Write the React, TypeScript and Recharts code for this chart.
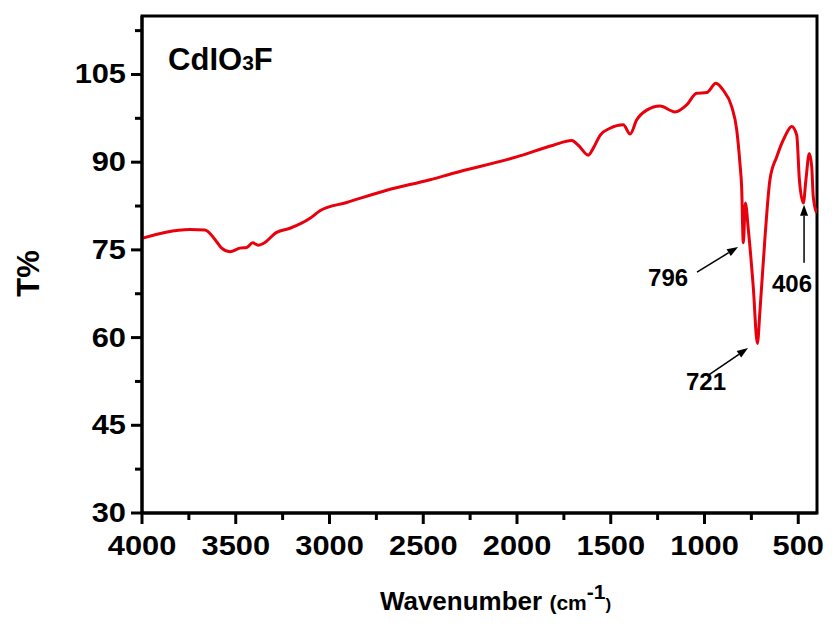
import {
  LineChart,
  Line,
  XAxis,
  YAxis,
  ReferenceArea,
  ReferenceLine,
  ReferenceDot
} from 'recharts'

// IR spectrum
const wavenumber = [
  4000, 3744, 3664, 3602, 3575, 3531, 3477, 3442, 3410, 3380, 3353, 3282, 3211, 3104, 3051,
  2908, 2695, 2464, 2340, 2002, 1806, 1708, 1673, 1620, 1593, 1557, 1504, 1433, 1397, 1362,
  1308, 1237, 1157, 1095, 1042, 988, 939, 900, 855, 828, 811, 802, 793, 782, 766, 740, 718,
  704, 677, 651, 615, 571, 535, 508, 494, 473, 459, 441, 428, 420, 402
]
const transmittance = [
  77.0, 78.5, 78.4, 76.4, 75.3, 74.7, 75.3, 75.4, 76.2, 75.8, 76.1, 78.0, 78.7, 80.4, 81.7,
  83.1, 85.2, 87.0, 88.1, 90.9, 92.9, 93.7, 92.9, 91.2, 92.4, 94.6, 95.8, 96.4, 94.8, 97.2,
  98.9, 99.6, 98.6, 99.8, 101.8, 101.9, 103.5, 102.3, 99.5, 95.5, 89.8, 85.8, 76.2, 83.0, 78.4, 68.7, 59.0,
  64.7, 77.3, 87.0, 90.9, 94.4, 96.1, 94.6, 87.0, 83.0, 87.0, 91.5, 89.2, 84.1, 81.3
]

const xTicks = [4000, 3750, 3500, 3250, 3000, 2750, 2500, 2250, 2000, 1750, 1500, 1250, 1000, 750, 500]
const yTicks = [30, 37.5, 45, 52.5, 60, 67.5, 75, 82.5, 90, 97.5, 105, 112.5]

// peak annotations (text position + arrow, in data units)
const peakLabels = ['796', '721', '406']
const labelWn = [1301, 1099, 640]
const labelT = [68.8, 51.0, 67.8]
const arrowFromWn = [1040, 987, 469]
const arrowFromT = [71.2, 53.4, 72.8]
const arrowToWn = [821, 768, 469]
const arrowToT = [75.5, 58.2, 82.7]

const data = wavenumber.map((w, i) => ({ wn: w, t: transmittance[i] }))

const FONT = '"Liberation Sans", Arial, sans-serif'

const XTick = (props: any) => {
  const { x, y, payload } = props
  const major = payload.value % 500 === 0
  return (
    <g>
      <line x1={x} y1={y} x2={x} y2={y + (major ? 11 : 7)} stroke="#000" strokeWidth={3} />
      {major && (
        <text
          transform={`translate(${x},${y + 42}) scale(1.1,1)`}
          textAnchor="middle"
          fontFamily={FONT}
          fontWeight="bold"
          fontSize={28}
          fill="#000"
        >
          {payload.value}
        </text>
      )}
    </g>
  )
}

const YTick = (props: any) => {
  const { x, y, payload } = props
  const major = payload.value % 15 === 0
  return (
    <g>
      <line x1={x} y1={y} x2={x - (major ? 11 : 7)} y2={y} stroke="#000" strokeWidth={3} />
      {major && (
        <text
          transform={`translate(${x - 16},${y + 9}) scale(1.1,1)`}
          textAnchor="end"
          fontFamily={FONT}
          fontWeight="bold"
          fontSize={28}
          fill="#000"
        >
          {payload.value}
        </text>
      )}
    </g>
  )
}

const Arrow = (props: any) => {
  const { x1, y1, x2, y2 } = props
  const dx = x2 - x1
  const dy = y2 - y1
  const len = Math.sqrt(dx * dx + dy * dy) || 1
  const ux = dx / len
  const uy = dy / len
  const hl = 11
  const hw = 4
  const bx = x2 - ux * hl
  const by = y2 - uy * hl
  return (
    <g>
      <line x1={x1} y1={y1} x2={bx} y2={by} stroke="#000" strokeWidth={1.5} />
      <polygon
        points={`${x2},${y2} ${bx - uy * hw},${by + ux * hw} ${bx + uy * hw},${by - ux * hw}`}
        fill="#000"
      />
    </g>
  )
}

export default function App() {
  return (
    <div style={{ position: 'absolute', left: 0, top: 0, background: '#fff' }}>
      <LineChart
        width={832}
        height={635}
        data={data}
        margin={{ top: 16, right: 15, left: 0, bottom: 0 }}
      >
        <XAxis
          dataKey="wn"
          type="number"
          domain={[400, 4000]}
          reversed
          allowDataOverflow
          ticks={xTicks}
          interval={0}
          height={122}
          tickSize={0}
          tickMargin={0}
          tickLine={false}
          axisLine={{ stroke: '#000', strokeWidth: 3 }}
          tick={<XTick />}
          label={{
            content: (p: any) => {
              const vb = p.viewBox || { x: 142, y: 513, width: 675 }
              return (
                <text
                  x={vb.x + vb.width / 2 + 16}
                  y={vb.y + 97}
                  textAnchor="middle"
                  fontFamily={FONT}
                  fontWeight="bold"
                  fill="#000"
                >
                  <tspan fontSize={26}>Wavenumber </tspan>
                  <tspan fontSize={21}>(cm</tspan>
                  <tspan fontSize={21} dy={-11}>-1</tspan>
                  <tspan fontSize={17} dy={11}>)</tspan>
                </text>
              )
            }
          }}
        />
        <YAxis
          type="number"
          domain={[30, 115]}
          allowDataOverflow
          ticks={yTicks}
          interval={0}
          width={142}
          tickSize={0}
          tickMargin={0}
          tickLine={false}
          axisLine={{ stroke: '#000', strokeWidth: 3 }}
          tick={<YTick />}
          label={{
            content: (p: any) => {
              const vb = p.viewBox || { x: 0, y: 16, height: 497 }
              const cy = vb.y + vb.height / 2 + 9
              return (
                <text
                  x={28}
                  y={cy}
                  transform={`rotate(-90, 28, ${cy})`}
                  textAnchor="middle"
                  dominantBaseline="central"
                  fontFamily={FONT}
                  fontWeight="bold"
                  fontSize={31}
                  fill="#000"
                >
                  T%
                </text>
              )
            }
          }}
        />

        {/* box frame */}
        <ReferenceArea
          x1={400}
          x2={4000}
          y1={30}
          y2={115}
          fill="none"
          stroke="#000"
          strokeWidth={3}
          ifOverflow="visible"
        />

        <Line
          type="monotone"
          dataKey="t"
          stroke="#e8000d"
          strokeWidth={3}
          dot={false}
          activeDot={false}
          isAnimationActive={false}
        />

        {/* sample name */}
        <ReferenceDot
          x={3861}
          y={105.8}
          r={0}
          ifOverflow="visible"
          shape={(p: any) => (
            <text x={p.cx} y={p.cy} fontFamily={FONT} fontWeight="bold" fill="#000">
              <tspan fontSize={31}>CdIO</tspan>
              <tspan fontSize={21}>3</tspan>
              <tspan fontSize={31}>F</tspan>
            </text>
          )}
        />

        {peakLabels.map((lab, i) => (
          <ReferenceLine
            key={'a' + lab}
            segment={[
              { x: arrowFromWn[i], y: arrowFromT[i] },
              { x: arrowToWn[i], y: arrowToT[i] }
            ]}
            ifOverflow="visible"
            shape={<Arrow />}
          />
        ))}
        {peakLabels.map((lab, i) => (
          <ReferenceDot
            key={'l' + lab}
            x={labelWn[i]}
            y={labelT[i]}
            r={0}
            ifOverflow="visible"
            shape={(p: any) => (
              <text
                x={p.cx}
                y={p.cy}
                fontFamily={FONT}
                fontWeight="bold"
                fontSize={24}
                fill="#000"
              >
                {lab}
              </text>
            )}
          />
        ))}
      </LineChart>
    </div>
  )
}
